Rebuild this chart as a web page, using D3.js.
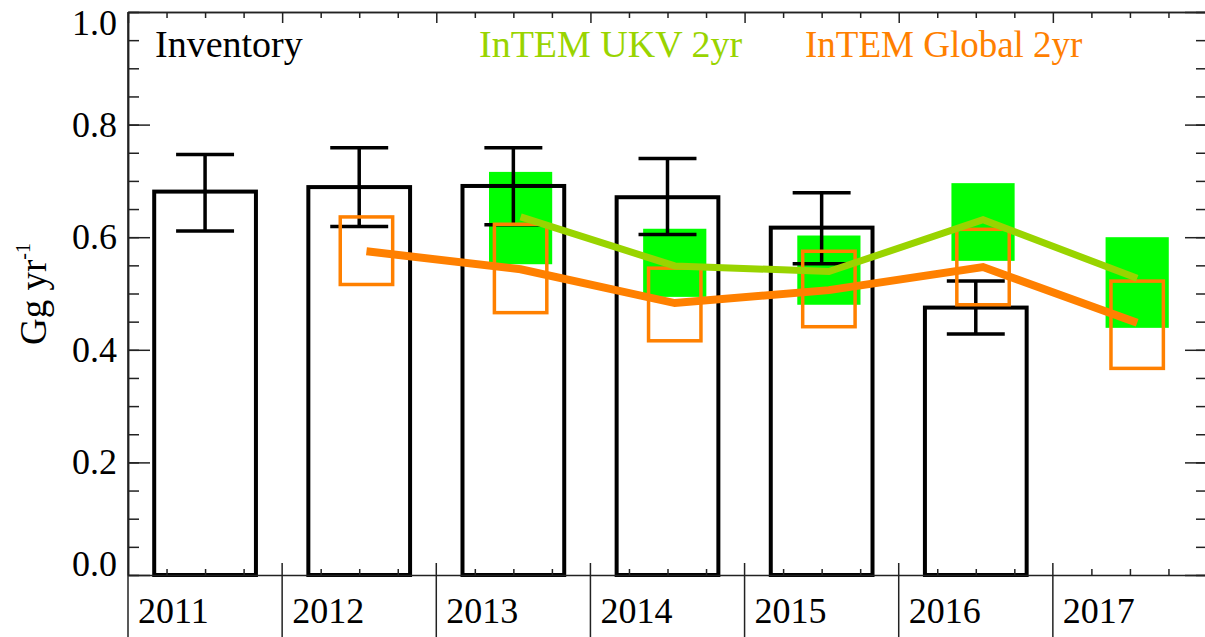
<!DOCTYPE html>
<html>
<head>
    <script src="https://d3js.org/d3.v7.min.js"></script>
    <style>
        body { margin: 0; background: white; }
        svg text { font-family: "Liberation Serif", "Times New Roman", serif; }
        .axis path, .axis line { stroke: #222; stroke-width: 1.5; }
    </style>
</head>
<body>
<svg id="chart" width="1205" height="637"></svg>
<script>
    // years shown on the x axis
    var years = [2011, 2012, 2013, 2014, 2015, 2016, 2017];

    // Inventory (bars with error bars), 2011-2016
    var invYears = [2011, 2012, 2013, 2014, 2015, 2016];
    var invValue = [0.681, 0.689, 0.691, 0.671, 0.617, 0.475];
    var invLow   = [0.611, 0.619, 0.622, 0.605, 0.553, 0.428];
    var invHigh  = [0.747, 0.759, 0.759, 0.740, 0.679, 0.522];

    // InTEM UKV 2yr, 2013-2017
    var ukvYears = [2013, 2014, 2015, 2016, 2017];
    var ukvValue = [0.636, 0.549, 0.539, 0.631, 0.527];
    var ukvLow   = [0.552, 0.494, 0.480, 0.558, 0.439];
    var ukvHigh  = [0.716, 0.615, 0.603, 0.696, 0.600];

    // InTEM Global 2yr, 2012-2017
    var gloYears = [2012, 2013, 2014, 2015, 2016, 2017];
    var gloValue = [0.575, 0.543, 0.483, 0.506, 0.547, 0.448];
    var gloLow   = [0.516, 0.466, 0.416, 0.441, 0.480, 0.367];
    var gloHigh  = [0.636, 0.623, 0.545, 0.575, 0.614, 0.522];

    var yMajor = [0, 0.2, 0.4, 0.6, 0.8, 1.0];

    var svg = d3.select("#chart");
    var pLeft = 128, pRight = 1207, pTop = 12, pBottom = 575;

    var x = d3.scaleLinear().domain([2011, 2018]).range([pLeft, pRight]);
    var y = d3.scaleLinear().domain([0, 1]).range([pBottom, pTop]);

    var green = "#00ff00", lime = "#99d400", orange = "#ff8000";
    var mid = 0.5, est = 0.547;   // bar centre / model estimate position inside a year

    function band(w) { return x(2011 + w) - x(2011); }

    // green UKV uncertainty boxes
    svg.append("g").selectAll("rect").data(ukvYears).enter().append("rect")
        .attr("x", function (d) { return x(d + est) - band(0.205); })
        .attr("width", band(0.41))
        .attr("y", function (d, i) { return y(ukvHigh[i]); })
        .attr("height", function (d, i) { return y(ukvLow[i]) - y(ukvHigh[i]); })
        .attr("fill", green);

    // inventory bars
    svg.append("g").selectAll("rect").data(invYears).enter().append("rect")
        .attr("x", function (d) { return x(d + mid) - band(0.33); })
        .attr("width", band(0.66))
        .attr("y", function (d, i) { return y(invValue[i]); })
        .attr("height", function (d, i) { return y(0) - y(invValue[i]); })
        .attr("fill", "none")
        .attr("stroke", "black")
        .attr("stroke-width", 4);

    // inventory error bars
    var eb = svg.append("g").attr("stroke", "black").attr("stroke-width", 3.5);
    invYears.forEach(function (d, i) {
        var cx = x(d + mid), hw = band(0.188);
        eb.append("line").attr("x1", cx).attr("x2", cx)
            .attr("y1", y(invLow[i])).attr("y2", y(invHigh[i]));
        [invLow[i], invHigh[i]].forEach(function (v) {
            eb.append("line").attr("x1", cx - hw).attr("x2", cx + hw)
                .attr("y1", y(v)).attr("y2", y(v));
        });
    });

    // orange Global uncertainty boxes
    svg.append("g").selectAll("rect").data(gloYears).enter().append("rect")
        .attr("x", function (d) { return x(d + est) - band(0.17); })
        .attr("width", band(0.34))
        .attr("y", function (d, i) { return y(gloHigh[i]); })
        .attr("height", function (d, i) { return y(gloLow[i]) - y(gloHigh[i]); })
        .attr("fill", "none")
        .attr("stroke", orange)
        .attr("stroke-width", 3.5);

    // lines
    var ukvLine = d3.line()
        .x(function (d) { return x(d + est); })
        .y(function (d, i) { return y(ukvValue[i]); });
    svg.append("path").attr("d", ukvLine(ukvYears))
        .attr("fill", "none").attr("stroke", lime).attr("stroke-width", 7);

    var gloLine = d3.line()
        .x(function (d) { return x(d + est); })
        .y(function (d, i) { return y(gloValue[i]); });
    svg.append("path").attr("d", gloLine(gloYears))
        .attr("fill", "none").attr("stroke", orange).attr("stroke-width", 8);

    // axes
    var quarters = d3.range(2011, 2018.01, 0.25).filter(function (d) { return d % 1 != 0; });
    var minorY = d3.range(0, 1.001, 0.05);

    svg.append("g").attr("class", "axis").attr("transform", "translate(0," + pTop + ")")
        .call(d3.axisTop(x).tickValues(quarters).tickSize(-6).tickFormat("").tickSizeOuter(0));
    svg.append("g").attr("class", "axis").attr("transform", "translate(0," + pTop + ")")
        .call(d3.axisTop(x).tickValues(years).tickSize(-11).tickFormat("").tickSizeOuter(0));

    svg.append("g").attr("class", "axis").attr("transform", "translate(0," + pBottom + ")")
        .call(d3.axisBottom(x).tickValues(quarters).tickSize(-6).tickFormat("").tickSizeOuter(0));

    svg.append("g").attr("class", "axis").attr("transform", "translate(" + pLeft + ",0)")
        .call(d3.axisLeft(y).tickValues(minorY).tickSize(-11).tickFormat("").tickSizeOuter(0));
    var yAxis = svg.append("g").attr("class", "axis").attr("transform", "translate(" + pLeft + ",0)")
        .call(d3.axisLeft(y).tickValues(yMajor).tickSize(-22).tickPadding(11)
            .tickFormat(d3.format(".1f")).tickSizeOuter(0));
    yAxis.selectAll("text")
        .attr("font-size", 36).attr("fill", "black")
        .attr("font-family", "Liberation Serif")
        .attr("dy", function (d) { return d == 1 ? "0.62em" : d == 0 ? "0.0em" : "0.32em"; });

    svg.append("g").attr("class", "axis").attr("transform", "translate(" + pRight + ",0)")
        .call(d3.axisRight(y).tickValues(minorY).tickSize(-11).tickFormat("").tickSizeOuter(0));
    svg.append("g").attr("class", "axis").attr("transform", "translate(" + pRight + ",0)")
        .call(d3.axisRight(y).tickValues(yMajor).tickSize(-22).tickFormat("").tickSizeOuter(0));

    // year dividers below the plot, extending to the page edge
    var div = svg.append("g").attr("stroke", "#222").attr("stroke-width", 1.5);
    div.append("line").attr("x1", pLeft).attr("x2", pLeft).attr("y1", pTop).attr("y2", 637);
    years.slice(1).forEach(function (d) {
        div.append("line").attr("x1", x(d)).attr("x2", x(d)).attr("y1", pBottom - 12).attr("y2", 637);
    });

    svg.append("g").selectAll("text").data(years).enter().append("text")
        .attr("x", function (d) { return x(d) + 10; })
        .attr("y", 623)
        .attr("font-size", 36)
        .text(function (d) { return d; });

    // legend labels
    svg.append("text").attr("x", 155).attr("y", 57).attr("font-size", 38)
        .attr("fill", "black").text("Inventory");
    svg.append("text").attr("x", 479).attr("y", 57).attr("font-size", 38)
        .attr("fill", lime).text("InTEM UKV 2yr");
    svg.append("text").attr("x", 805).attr("y", 57).attr("font-size", 37)
        .attr("fill", orange).text("InTEM Global 2yr");

    // y title
    var yt = svg.append("text").attr("transform", "translate(46,345) rotate(-90)")
        .attr("font-size", 37);
    yt.append("tspan").text("Gg yr");
    yt.append("tspan").attr("font-size", 20).attr("dy", -16).text("-1");
</script>
</body>
</html>
